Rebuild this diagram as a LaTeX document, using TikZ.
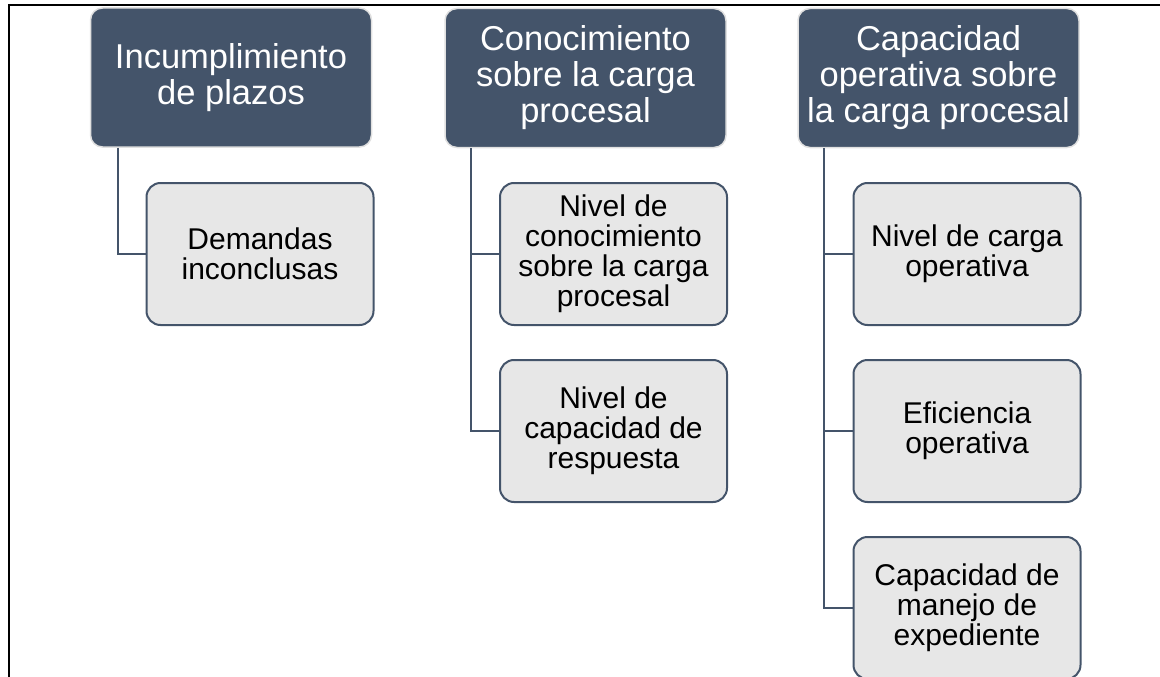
\documentclass[tikz,border=0pt]{standalone}
\usepackage{fontspec}
\setmainfont{Liberation Sans}
\definecolor{dk}{RGB}{68,84,106}
\definecolor{lt}{RGB}{231,231,231}
\begin{document}
\begin{tikzpicture}[x=1pt,y=-1pt,
 topbox/.style={rectangle, rounded corners=12pt, fill=dk, draw=black!12, line width=1.5pt, minimum width=281pt, minimum height=139pt, text=white, align=center, font=\fontsize{34.5}{36}\selectfont, inner sep=0pt},
 subbox/.style={rectangle, rounded corners=14pt, fill=lt, draw=dk, line width=2pt, minimum width=227pt, minimum height=142pt, text=black, align=center, font=\fontsize{30}{30}\selectfont, inner sep=0pt},
 link/.style={draw=dk, line width=2pt}]
\useasboundingbox (0,0) rectangle (1160,677);
\draw[line width=1.5pt] (9,680) -- (9,5) -- (1162,5);

\node[topbox] (t1) at (231,77.5) {Incumplimiento\\de plazos};
\node[topbox] (t2) at (585.5,78) {Conocimiento\\sobre la carga\\procesal};
\node[topbox] (t3) at (938.5,78) {Capacidad\\operativa sobre\\la carga procesal};

\node[subbox] (c1) at (260,254) {Demandas\\inconclusas};
\node[subbox] (c2) at (613.5,254) {Nivel de\\conocimiento\\sobre la carga\\procesal};
\node[subbox] (c3) at (613.5,431) {Nivel de\\capacidad de\\respuesta};
\node[subbox] (c4) at (967,254) {Nivel de carga\\operativa};
\node[subbox] (c5) at (967,431) {Eficiencia\\operativa};
\node[subbox] (c6) at (967,608) {Capacidad de\\manejo de\\expediente};

\draw[link] ([xshift=28pt]t1.south west) |- (c1.west);
\draw[link] ([xshift=27pt]t2.south west) |- (c2.west);
\draw[link] ([xshift=27pt]t2.south west) |- (c3.west);
\draw[link] ([xshift=27pt]t3.south west) |- (c4.west);
\draw[link] ([xshift=27pt]t3.south west) |- (c5.west);
\draw[link] ([xshift=27pt]t3.south west) |- (c6.west);
\end{tikzpicture}
\end{document}
